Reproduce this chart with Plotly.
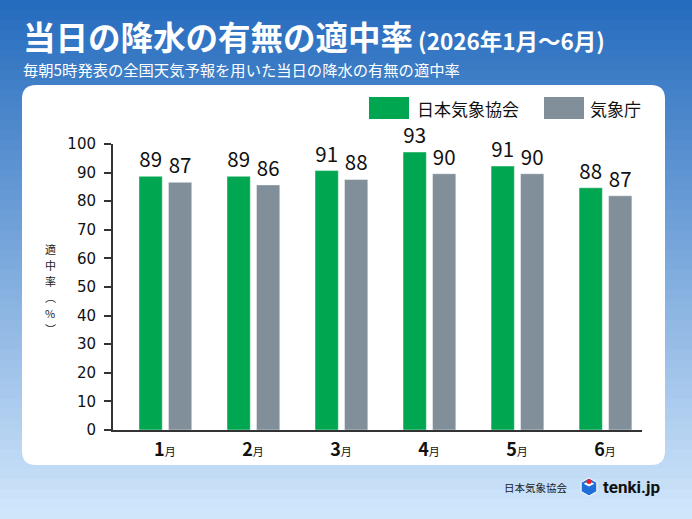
import plotly.graph_objects as go

# ---- data ----
months = ["1月", "2月", "3月", "4月", "5月", "6月"]
month_nums = ["1", "2", "3", "4", "5", "6"]
jwa_labels = [89, 89, 91, 93, 91, 88]          # 日本気象協会 (printed values)
jma_labels = [87, 86, 88, 90, 90, 87]          # 気象庁 (printed values)
jwa_heights = [88.7, 88.7, 90.7, 97.2, 92.3, 84.7]   # bar heights as drawn
jma_heights = [86.6, 85.7, 87.6, 89.6, 89.6, 81.9]
y_ticks = [0, 10, 20, 30, 40, 50, 60, 70, 80, 90, 100]
y_title_chars = ["適", "中", "率", "︵", "%", "︶"]

GREEN = "#00A650"
GRAY = "#808F99"
FONT = "Noto Sans CJK JP"

W_FIG, H_FIG = 692, 519
L, R, T, B = 113, 642, 144, 430
PW, PH = R - L, B - T


def px(x):
    return (x - L) / PW


def py(y):
    return (B - y) / PH


fig = go.Figure()
fig.add_trace(go.Bar(
    x=list(range(len(months))), y=jwa_heights, name="日本気象協会",
    marker=dict(color=GREEN, line=dict(color="rgba(255,255,255,0.45)", width=1)),
    width=0.265, offset=-0.295,
    text=[str(v) for v in jwa_labels], textposition="outside",
    textfont=dict(size=20.5, color="#111", family=FONT), cliponaxis=False,
))
fig.add_trace(go.Bar(
    x=list(range(len(months))), y=jma_heights, name="気象庁",
    marker=dict(color=GRAY, line=dict(color="rgba(255,255,255,0.45)", width=1)),
    width=0.265, offset=0.04,
    text=[str(v) for v in jma_labels], textposition="outside",
    textfont=dict(size=20.5, color="#111", family=FONT), cliponaxis=False,
))

shapes = []
# background gradient
n = 52
top_c = (38, 108, 190)
bot_c = (208, 230, 251)
for i in range(n):
    t = i / (n - 1)
    c = tuple(int(round(top_c[k] + (bot_c[k] - top_c[k]) * t)) for k in range(3))
    y0 = i * H_FIG / n
    y1 = (i + 1) * H_FIG / n + 1
    shapes.append(dict(type="rect", xref="paper", yref="paper", layer="below",
                       x0=px(0), x1=px(W_FIG), y0=py(y0), y1=py(y1),
                       fillcolor="rgb(%d,%d,%d)" % c, line=dict(width=0)))

# white rounded panel
x0, x1, y0, y1, r = 22, 665, 85, 465, 14
path = (f"M {px(x0 + r)} {py(y0)} L {px(x1 - r)} {py(y0)} "
        f"Q {px(x1)} {py(y0)} {px(x1)} {py(y0 + r)} L {px(x1)} {py(y1 - r)} "
        f"Q {px(x1)} {py(y1)} {px(x1 - r)} {py(y1)} L {px(x0 + r)} {py(y1)} "
        f"Q {px(x0)} {py(y1)} {px(x0)} {py(y1 - r)} L {px(x0)} {py(y0 + r)} "
        f"Q {px(x0)} {py(y0)} {px(x0 + r)} {py(y0)} Z")
shapes.append(dict(type="path", path=path, xref="paper", yref="paper", layer="below",
                   fillcolor="white", line=dict(width=0)))

# legend swatches
shapes.append(dict(type="rect", xref="paper", yref="paper", x0=px(369), x1=px(409),
                   y0=py(119), y1=py(97), fillcolor=GREEN, line=dict(width=0)))
shapes.append(dict(type="rect", xref="paper", yref="paper", x0=px(544), x1=px(584),
                   y0=py(119), y1=py(97), fillcolor=GRAY, line=dict(width=0)))

# tenki.jp icon (simple cube)
cx, cy, s = 589, 487, 9
hexpath = (f"M {px(cx)} {py(cy - s)} L {px(cx + s * 0.87)} {py(cy - s / 2)} "
           f"L {px(cx + s * 0.87)} {py(cy + s / 2)} L {px(cx)} {py(cy + s)} "
           f"L {px(cx - s * 0.87)} {py(cy + s / 2)} L {px(cx - s * 0.87)} {py(cy - s / 2)} Z")
shapes.append(dict(type="path", path=hexpath, xref="paper", yref="paper",
                   fillcolor="#1E6FD9", line=dict(color="white", width=1)))
shapes.append(dict(type="path", xref="paper", yref="paper",
                   path=f"M {px(cx - s * 0.6)} {py(cy - s * 0.35)} L {px(cx)} {py(cy - s * 0.65)} "
                        f"L {px(cx + s * 0.6)} {py(cy - s * 0.35)} L {px(cx)} {py(cy - s * 0.05)} Z",
                   fillcolor="white", line=dict(width=0)))
shapes.append(dict(type="circle", xref="paper", yref="paper",
                   x0=px(cx - 2.5), x1=px(cx + 2.5), y0=py(cy - 8), y1=py(cy - 3),
                   fillcolor="#E8202A", line=dict(width=0)))

annotations = []
annotations.append(dict(
    xref="paper", yref="paper", x=px(21), y=py(35), xanchor="left", yanchor="middle",
    text="<b>当日の降水の有無の適中率</b><b><span style='font-size:22.5px'> (2026年1月～6月)</span></b>",
    showarrow=False, font=dict(size=32.5, color="white", family=FONT)))
annotations.append(dict(
    xref="paper", yref="paper", x=px(21), y=py(69), xanchor="left", yanchor="middle",
    text="毎朝5時発表の全国天気予報を用いた当日の降水の有無の適中率",
    showarrow=False, font=dict(size=15.3, color="white", family=FONT)))
annotations.append(dict(
    xref="paper", yref="paper", x=px(415), y=py(108), xanchor="left", yanchor="middle",
    text="日本気象協会", showarrow=False, font=dict(size=17, color="#111", family=FONT)))
annotations.append(dict(
    xref="paper", yref="paper", x=px(588), y=py(108), xanchor="left", yanchor="middle",
    text="気象庁", showarrow=False, font=dict(size=17, color="#111", family=FONT)))

# vertical y-axis title: one annotation per stacked character
ycent = [249, 265, 281, 297, 313, 329]
for ch, yy in zip(y_title_chars, ycent):
    annotations.append(dict(
        xref="paper", yref="paper", x=px(50), y=py(yy), xanchor="center", yanchor="middle",
        text=ch, showarrow=False,
        font=dict(size=11, color="#222", family=FONT)))

# footer
annotations.append(dict(
    xref="paper", yref="paper", x=px(570), y=py(487), xanchor="right", yanchor="middle",
    text="日本気象協会", showarrow=False, font=dict(size=10.5, color="#222", family=FONT)))
annotations.append(dict(
    xref="paper", yref="paper", x=px(601), y=py(487), xanchor="left", yanchor="middle",
    text="<b>tenki.jp</b>", showarrow=False, font=dict(size=17, color="#111", family="Roboto")))

tick_text = [f"<b>{m}</b><span style='font-size:11px'>月</span>" for m in month_nums]

fig.update_layout(
    width=W_FIG, height=H_FIG,
    margin=dict(l=L, r=W_FIG - R, t=T, b=H_FIG - B, pad=0),
    paper_bgcolor="rgb(120,170,222)", plot_bgcolor="rgba(0,0,0,0)",
    showlegend=False, shapes=shapes, annotations=annotations,
    font=dict(family=FONT, color="#111"),
    xaxis=dict(range=[-0.59, 5.42], tickmode="array", tickvals=list(range(len(months))),
               ticktext=tick_text, showgrid=False, zeroline=False, showline=True,
               linecolor="#333", linewidth=2, ticks="", ticklabelstandoff=2,
               tickfont=dict(size=18, color="#111", family=FONT)),
    yaxis=dict(range=[0, 100], tickmode="array", tickvals=y_ticks,
               showgrid=False, zeroline=False, showline=True, linecolor="#333",
               linewidth=2, ticks="outside", ticklen=7, tickwidth=1.5, tickcolor="#333",
               ticklabelstandoff=5, tickfont=dict(size=15, color="#111", family="DejaVu Sans")),
)

fig.write_html("out.html", config={"displayModeBar": False},
               post_script="document.body.style.margin='0';document.body.style.overflow='hidden';")
